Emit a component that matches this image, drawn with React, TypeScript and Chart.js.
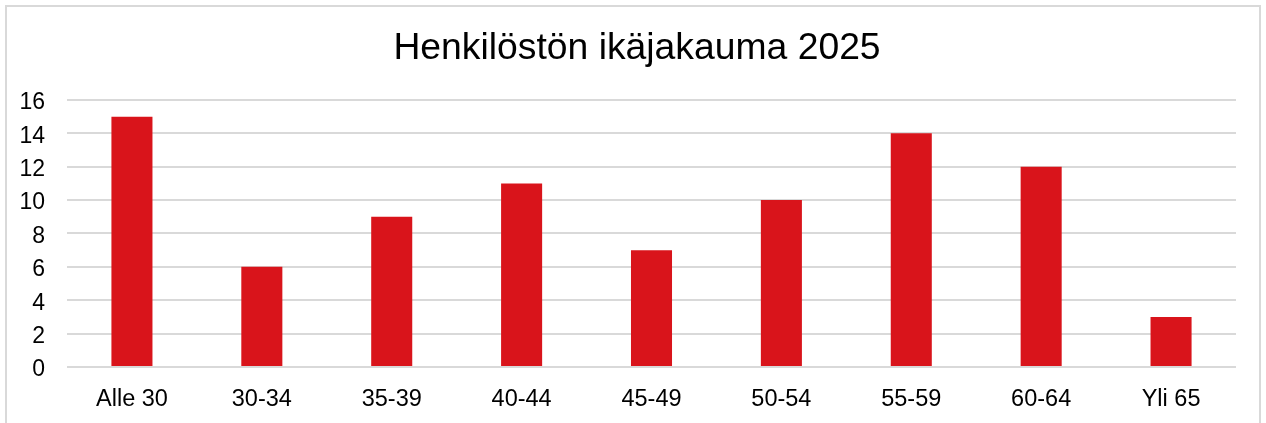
import React, { useEffect, useRef } from "react";
import { Chart, registerables } from "chart.js";

Chart.register(...registerables);

const categories = ["Alle 30", "30-34", "35-39", "40-44", "45-49", "50-54", "55-59", "60-64", "Yli 65"];
const values = [15, 6, 9, 11, 7, 10, 14, 12, 3];
const chartTitle = "Henkilöstön ikäjakauma 2025";
const yMin = 0;
const yMax = 16;
const yStep = 2;

const FONT = "'Liberation Sans', Arial, sans-serif";

export default function App() {
  const canvasRef = useRef<HTMLCanvasElement | null>(null);

  useEffect(() => {
    document.body.style.margin = "0";
    const canvas = canvasRef.current;
    if (!canvas) return;
    const chart = new Chart(canvas, {
      type: "bar",
      data: {
        labels: categories,
        datasets: [
          {
            data: values,
            backgroundColor: "#D9141B",
            borderWidth: 0,
            categoryPercentage: 1,
            barPercentage: 0.316,
          },
        ],
      },
      options: {
        animation: false,
        responsive: false,
        maintainAspectRatio: false,
        devicePixelRatio: 1,
        layout: { padding: { left: 8, right: 0, top: 0, bottom: 0 } },
        plugins: {
          legend: { display: false },
          tooltip: { enabled: false },
          title: {
            display: true,
            text: chartTitle,
            color: "#000000",
            font: { family: FONT, size: 37.3, weight: "normal", lineHeight: 1.2 },
            padding: { top: 26, bottom: 29.2 },
          },
        },
        scales: {
          x: {
            grid: { display: false, drawTicks: false },
            border: { display: false },
            ticks: {
              color: "#000000",
              font: { family: FONT, size: 23.5 },
              padding: 18,
              maxRotation: 0,
              autoSkip: false,
            },
            afterFit: (scale: any) => {
              scale.height = 56;
            },
          },
          y: {
            min: yMin,
            max: yMax,
            grid: { color: "#d9d9d9", lineWidth: 2, drawTicks: false },
            border: { display: false },
            ticks: {
              stepSize: yStep,
              color: "#000000",
              font: { family: FONT, size: 23 },
              padding: 22,
              labelOffset: 3,
            },
            afterFit: (scale: any) => {
              scale.width = 59;
            },
          },
          yRight: {
            position: "right",
            display: true,
            min: yMin,
            max: yMax,
            grid: { display: false, drawTicks: false },
            border: { display: false },
            ticks: { display: false },
            afterFit: (scale: any) => {
              scale.width = 30;
            },
          },
        },
      },
    });
    return () => chart.destroy();
  }, []);

  return (
    <div style={{ position: "fixed", left: 0, top: 0, width: 1266, height: 423, background: "#ffffff", overflow: "hidden" }}>
      <div
        style={{
          position: "absolute",
          left: 5,
          top: 5,
          width: 1256,
          height: 440,
          border: "2px solid #d9d9d9",
          boxSizing: "border-box",
        }}
      />
      <canvas ref={canvasRef} width={1266} height={423} style={{ position: "absolute", left: 0, top: 0, width: 1266, height: 423 }} />
    </div>
  );
}
